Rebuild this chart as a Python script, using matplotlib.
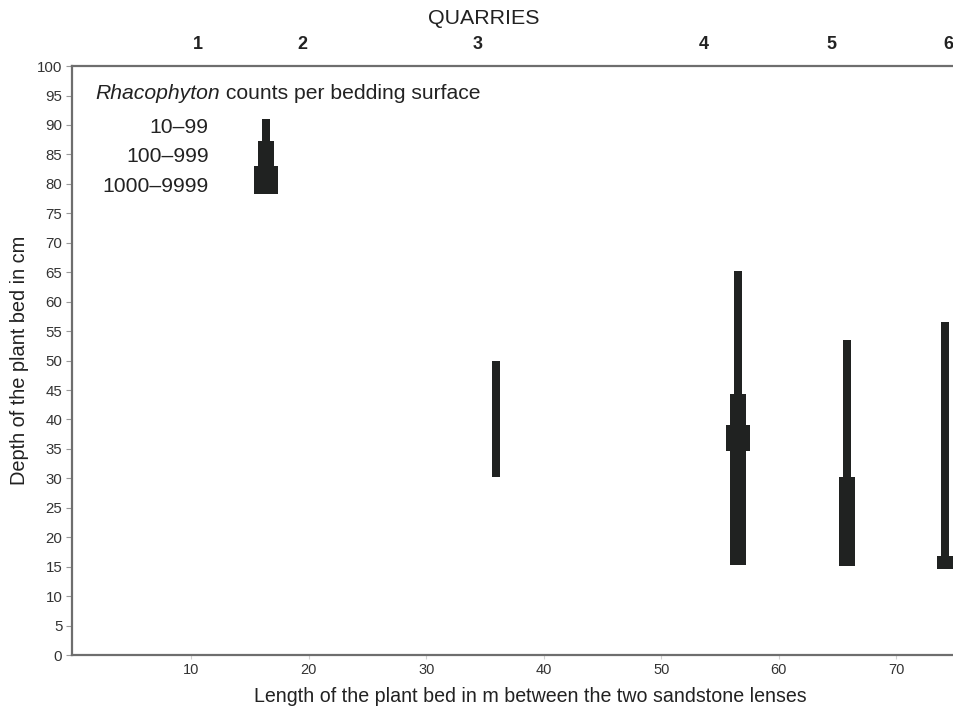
import matplotlib
matplotlib.use("Agg")
import matplotlib.pyplot as plt

plt.rcParams['font.family'] = ['Liberation Sans', 'DejaVu Sans']

# ---- data ----
count_classes = ["10\u201399", "100\u2013999", "1000\u20139999"]

# legend key column
key_x = 16.4
key_bottom = [87.3, 83.0, 78.3]
key_top = [91.0, 87.3, 83.0]
key_class = [0, 1, 2]

# quarry segments (x position in m, depth range in cm, count class)
seg_x = [35.9, 56.5, 56.5, 56.5, 65.8, 65.8, 74.1, 74.1]
seg_bottom = [30.2, 44.4, 15.3, 34.6, 30.3, 15.1, 16.9, 14.6]
seg_top = [50.0, 65.2, 44.4, 39.0, 53.5, 30.3, 56.6, 16.9]
seg_class = [0, 0, 1, 2, 0, 1, 0, 1]

quarry_labels = ["1", "2", "3", "4", "5", "6"]
quarry_x = [10.6, 19.45, 34.4, 53.6, 64.5, 74.4]

x_ticks = [10, 20, 30, 40, 50, 60, 70]
y_ticks = list(range(0, 101, 5))

# ---- style ----
class_width = {0: 0.68, 1: 1.36, 2: 2.04}
bar_color = "#202221"
spine_color = "#6e6e6e"
text_color = "#222222"

fig = plt.figure(figsize=(9.54, 7.13), dpi=100)
ax = fig.add_axes([0.0755, 0.0813, 0.9245, 0.826])

def draw(xs, bottoms, tops, classes):
    for x, b, t, c in zip(xs, bottoms, tops, classes):
        ax.bar(x, t - b, bottom=b, width=class_width[c], color=bar_color,
               edgecolor="none", linewidth=0, zorder=3, clip_on=False)

# draw thin first so wider overlays sit on top
order = sorted(range(len(seg_x)), key=lambda i: seg_class[i])
draw([seg_x[i] for i in order], [seg_bottom[i] for i in order],
     [seg_top[i] for i in order], [seg_class[i] for i in order])
draw([key_x] * len(key_class), key_bottom, key_top, key_class)

ax.set_xlim(-0.13, 74.9)
ax.set_ylim(0, 100)
ax.set_xticks(x_ticks)
ax.set_yticks(y_ticks)

for s in ["left", "top", "bottom"]:
    ax.spines[s].set_color(spine_color)
    ax.spines[s].set_linewidth(1.6)
ax.spines["right"].set_visible(False)

ax.tick_params(axis="y", length=4, width=0.8, color="#9a9a9a",
               labelsize=10.8, labelcolor="#333333", pad=3)
ax.tick_params(axis="x", length=3, width=0.8, color="#d0d0d0",
               labelsize=10.5, labelcolor="#333333", pad=3)

ax.set_xlabel("Length of the plant bed in m between the two sandstone lenses",
              fontsize=14.1, color=text_color)
ax.xaxis.set_label_coords(0.52, -0.054)
ax.set_ylabel("Depth of the plant bed in cm", fontsize=14.4, color=text_color)
ax.yaxis.set_label_coords(-0.049, 0.5)

# legend title and labels
title_y = 95.3
t1 = ax.text(1.83, title_y, "Rhacophyton", fontsize=15.2, style="italic",
             color=text_color, va="center", ha="left")
fig.canvas.draw()
bb = t1.get_window_extent()
x_end = ax.transData.inverted().transform((bb.x1, bb.y0))[0]
ax.text(x_end, title_y, " counts per bedding surface", fontsize=15.2,
        color=text_color, va="center", ha="left")

label_y = [89.6, 84.7, 79.6]
for lab, yy in zip(count_classes, label_y):
    ax.text(11.5, yy, lab, fontsize=15.2, color=text_color,
            ha="right", va="center")

# quarry labels
for lab, qx in zip(quarry_labels, quarry_x):
    ax.text(qx, 1.037, lab, transform=ax.get_xaxis_transform(), fontsize=13,
            fontweight="bold", color=text_color, ha="center", va="center",
            clip_on=False)
ax.text(34.9, 1.0815, "QUARRIES", transform=ax.get_xaxis_transform(),
        fontsize=15.4, color=text_color, ha="center", va="center")

fig.savefig("out.png", dpi=100)
